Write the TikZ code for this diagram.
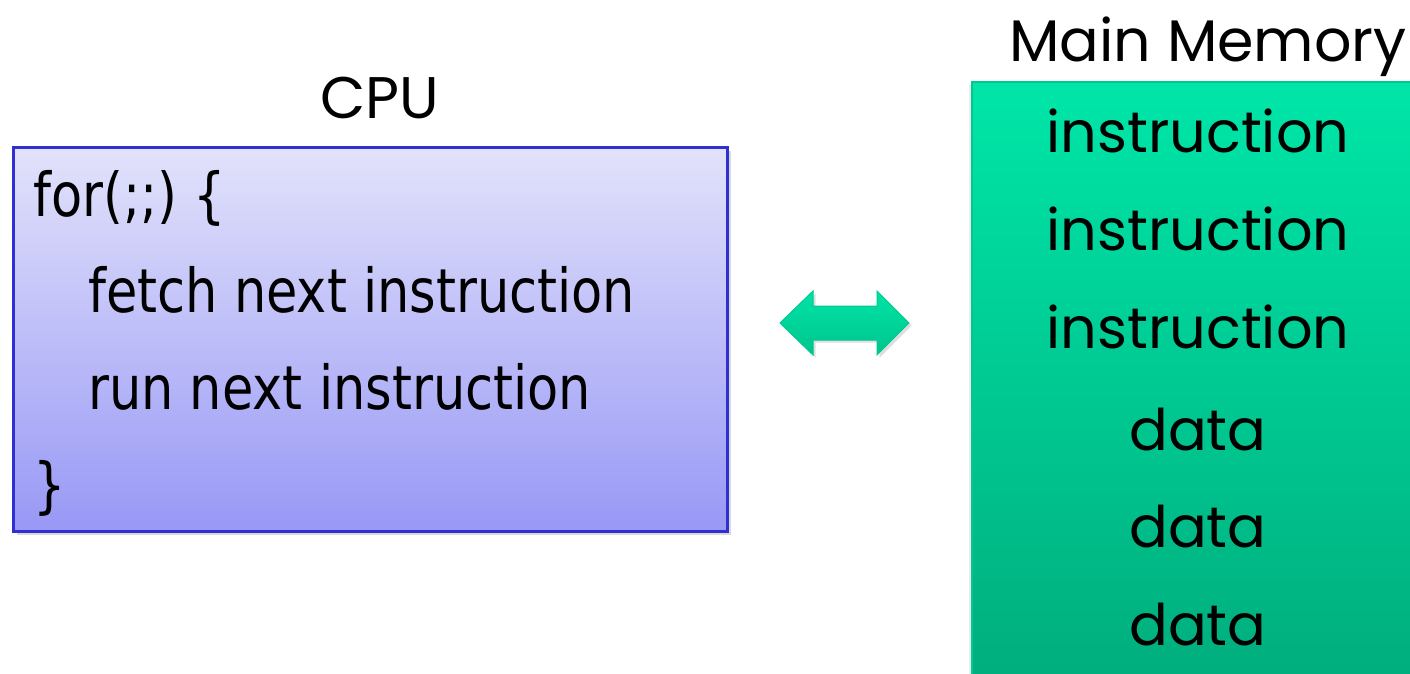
\documentclass[tikz,border=0pt]{standalone}
\usepackage{fontspec}
\setmainfont{DejaVu Sans}[FakeStretch=0.84]
\newfontfamily\memfont{Poppins}
\usetikzlibrary{shadows}

\definecolor{cputop}{RGB}{226,226,251}
\definecolor{cpubot}{RGB}{152,152,246}
\definecolor{cpuline}{RGB}{48,48,210}
\definecolor{memtop}{RGB}{0,230,168}
\definecolor{membot}{RGB}{0,174,125}
\definecolor{memline}{RGB}{0,200,145}
\definecolor{arrtop}{RGB}{0,228,166}
\definecolor{arrbot}{RGB}{0,196,140}

\tikzset{
  code/.style={anchor=base west,inner sep=0pt,font=\fontsize{45.5}{56}\selectfont},
  cell/.style={anchor=base,inner sep=0pt,font=\memfont\fontsize{43}{52}\selectfont},
  title/.style={anchor=base,inner sep=0pt,font=\memfont\fontsize{44}{52}\selectfont},
}

\begin{document}
\begin{tikzpicture}[x=0.75pt,y=0.75pt,yscale=-1,xscale=1]
\useasboundingbox (0,0) rectangle (1410,674);

%Shape: Rectangle (CPU)
\draw [cpuline, line width=2.25, top color=cputop, bottom color=cpubot,
  drop shadow={opacity=0.3, shadow xshift=3pt, shadow yshift=-3pt}]
  (13,147) rectangle (727,531);
%Shape: Rectangle (main memory)
\draw [memline, line width=1, top color=memtop, bottom color=membot,
  drop shadow={opacity=0.15, shadow xshift=-2pt, shadow yshift=-2pt}]
  (972,82) rectangle (1414,680);
%Shape: Double Arrow
\draw [memline, line width=0.75, top color=arrtop, bottom color=arrbot,
  drop shadow={opacity=0.25, shadow xshift=2pt, shadow yshift=-2pt}]
  (780,323) -- (813,291) -- (813,306) -- (877,306) -- (877,291) -- (909,323)
  -- (877,355) -- (877,340) -- (813,340) -- (813,355) -- cycle ;

% Text Node
\node [title] (cpu) at (380,118) {CPU};
% Text Node
\node [title] (mem) at (1208,62) {Main Memory};

% Text Node
\node [code] (loop) at (33,216) {for(;;) \{};
% Text Node
\node [code] (fetch) at (88,312) {fetch next instruction};
% Text Node
\node [code] (run) at (88,409) {run next instruction};
% Text Node
\node [code] (close) at (33,506) {\}};

% Text Node
\node [cell] (ins1) at (1198,152) {instruction};
% Text Node
\node [cell] (ins2) at (1198,250) {instruction};
% Text Node
\node [cell] (ins3) at (1198,348) {instruction};
% Text Node
\node [cell] (dat1) at (1198,450) {data};
% Text Node
\node [cell] (dat2) at (1198,547) {data};
% Text Node
\node [cell] (dat3) at (1198,645) {data};

\end{tikzpicture}
\end{document}
